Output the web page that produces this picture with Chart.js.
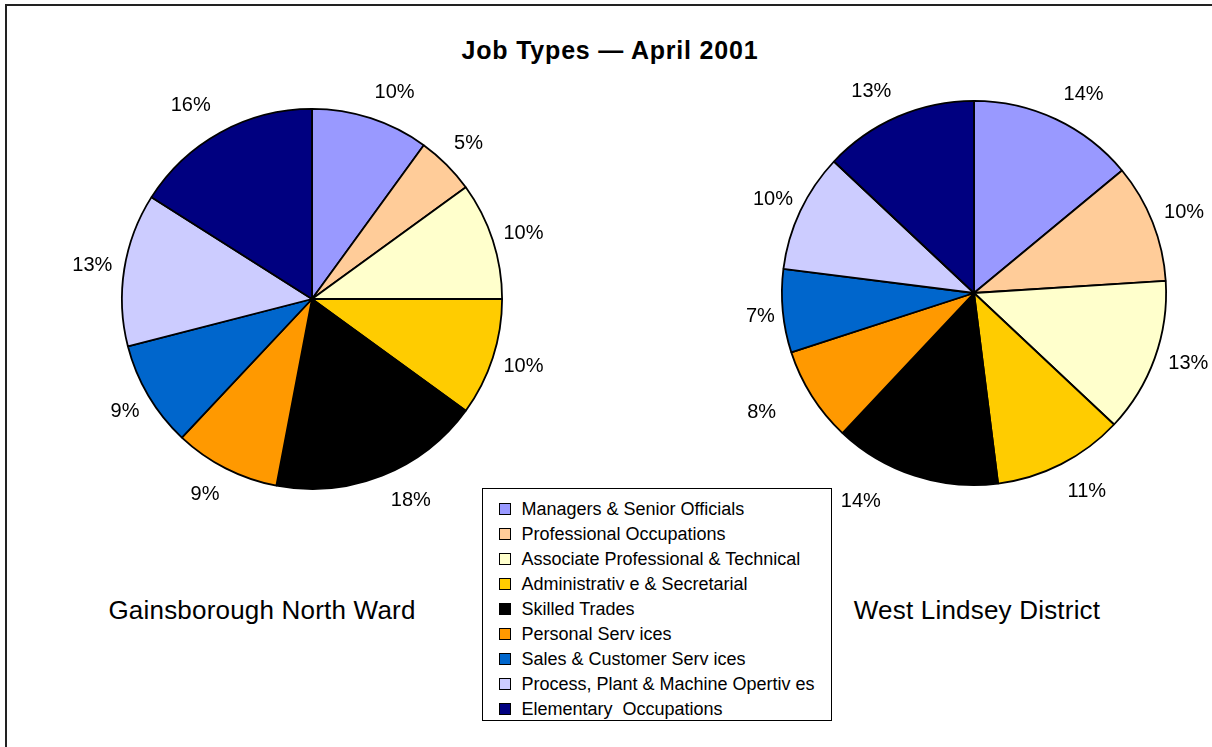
<!DOCTYPE html>
<html>
<head>
<meta charset="utf-8">
<script src="https://cdn.jsdelivr.net/npm/chart.js@4"></script>
<style>
  html, body { margin:0; padding:0; background:#fff; overflow:hidden; width:1212px; height:747px; }
  body { position:relative; font-family:"Liberation Sans", Arial, sans-serif; color:#000; }
  #frame { position:absolute; left:5px; top:4px; width:1400px; height:1000px; border-top:2px solid #222; border-left:2px solid #222; }
  .title { position:absolute; top:38px; left:610px; transform:translateX(-50%); font-weight:bold; font-size:25px; line-height:25px; white-space:nowrap; letter-spacing:0.8px; }
  .cap { position:absolute; top:597px; font-size:26px; line-height:26px; white-space:nowrap; transform:translateX(-50%); letter-spacing:0.2px; }
  canvas { position:absolute; }
  #legend { position:absolute; left:482px; top:488px; width:350px; height:233px; border:1.5px solid #000; background:#fff; box-sizing:border-box; z-index:5; }
  .sw { position:absolute; left:15.5px; width:12px; height:12px; border:1.5px solid #000; box-sizing:border-box; }
  .lt { position:absolute; left:38.5px; font-size:18px; line-height:20px; white-space:pre; }
</style>
</head>
<body>
<div id="frame"></div>
<div class="title">Job Types — April 2001</div>
<canvas id="c1" width="540" height="540" style="left:42px; top:29px;"></canvas>
<canvas id="c2" width="540" height="540" style="left:704px; top:23px;"></canvas>
<div class="cap" id="cap1" style="left:262px;"></div>
<div class="cap" id="cap2" style="left:977px;"></div>
<div id="legend"></div>
<script>
// ---- data ----
const categories = [
  "Managers & Senior Officials",
  "Professional Occupations",
  "Associate Professional & Technical",
  "Administrativ e & Secretarial",
  "Skilled Trades",
  "Personal Serv ices",
  "Sales & Customer Serv ices",
  "Process, Plant & Machine Opertiv es",
  "Elementary  Occupations"
];
const colors = ["#9999FF","#FFCC99","#FFFFCC","#FFCC00","#000000","#FF9900","#0066CC","#CCCCFF","#000080"];
const areaNames = ["Gainsborough North Ward", "West Lindsey District"];
const gainsboroughPct = [10, 5, 10, 10, 18, 9, 9, 13, 16];
const westLindseyPct  = [14, 10, 13, 11, 14, 8, 7, 10, 13];

// ---- captions & legend ----
document.getElementById('cap1').textContent = areaNames[0];
document.getElementById('cap2').textContent = areaNames[1];
const legend = document.getElementById('legend');
categories.forEach((name, i) => {
  const cy = 19.5 + 25 * i;
  const sw = document.createElement('div');
  sw.className = 'sw';
  sw.style.top = (cy - 6) + 'px';
  sw.style.background = colors[i];
  legend.appendChild(sw);
  const t = document.createElement('div');
  t.className = 'lt';
  t.style.top = (cy - 10) + 'px';
  t.textContent = name;
  legend.appendChild(t);
});

// ---- percentage label plugin (outside-end placement, box anchored to the slice direction) ----
const pctLabels = {
  id: 'pctLabels',
  afterDatasetsDraw(chart, args, opts) {
    const ctx = chart.ctx;
    const meta = chart.getDatasetMeta(0);
    const ds = chart.data.datasets[0];
    const clamp = v => Math.max(-1, Math.min(1, v));
    ctx.save();
    ctx.font = '20px "Liberation Sans", Arial, sans-serif';
    ctx.fillStyle = '#000';
    ctx.textAlign = 'center';
    ctx.textBaseline = 'middle';
    meta.data.forEach((arc, i) => {
      const p = arc.getProps(['x','y','startAngle','endAngle','outerRadius'], true);
      const mid = (p.startAngle + p.endAngle) / 2;
      const txt = ds.data[i] + '%';
      const hw = ctx.measureText(txt).width / 2 + opts.padX;
      const hh = opts.halfH;
      const dx = Math.cos(mid), dy = Math.sin(mid);
      const D = p.outerRadius + opts.gap;
      const n = (opts.nudge && opts.nudge[i]) || [0, 0];
      const x = p.x + D * dx + hw * clamp(dx * opts.kx) + n[0];
      const y = p.y + D * dy + hh * clamp(dy * opts.ky) + n[1];
      ctx.fillText(txt, x, y);
    });
    ctx.restore();
  }
};

function makePie(id, values, pad, nudge) {
  return new Chart(document.getElementById(id), {
    type: 'pie',
    data: {
      labels: categories,
      datasets: [{
        data: values,
        backgroundColor: colors,
        borderColor: '#000',
        borderWidth: 1.8
      }]
    },
    options: {
      responsive: false,
      devicePixelRatio: 1,
      animation: false,
      events: [],
      layout: { padding: pad },
      plugins: {
        legend: { display: false },
        tooltip: { enabled: false },
        pctLabels: { gap: 8, padX: 4, halfH: 19, kx: 1.8, ky: 1.0, nudge: nudge }
      }
    },
    plugins: [pctLabels]
  });
}
makePie('c1', gainsboroughPct, 79, [[8,0],[-2,-2],[-1,2],[-1,0],[10,0],[-2,2],[2,2],[0,0],[-5,-3]]);
makePie('c2', westLindseyPct, 77, [[6,0],[0,0],[2,-4],[3,3],[-38,0],[-25,2],[4,3],[4,0],[-6,0]]);
</script>
</body>
</html>
